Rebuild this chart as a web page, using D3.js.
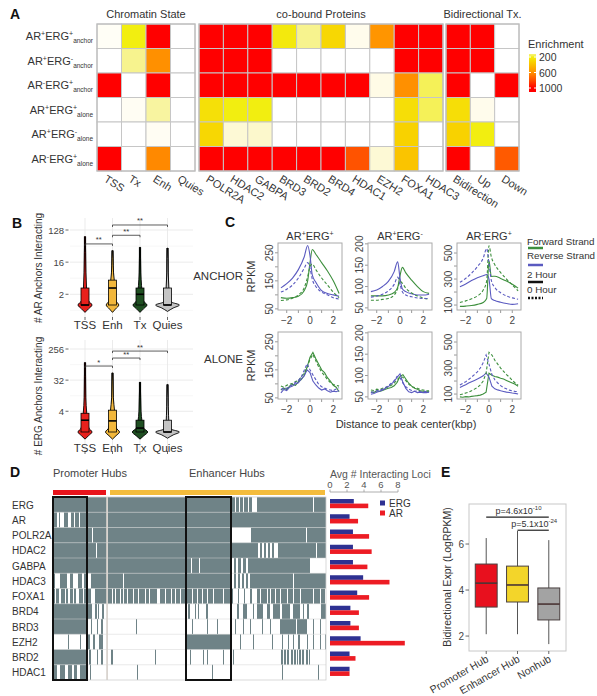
<!DOCTYPE html>
<html><head><meta charset="utf-8">
<script src="https://cdn.jsdelivr.net/npm/d3@7"></script>
<style>body{margin:0;background:#fff} svg{font-family:"Liberation Sans",Arial,Helvetica,sans-serif}</style>
</head><body><svg id="fig" width="597" height="696"></svg>
<script>
// ================= DATA =================
// Panel A
const aRows = [["+","+","anchor"],["+","-","anchor"],["-","+","anchor"],["+","+","alone"],["+","-","alone"],["-","+","alone"]];
const chromCols = ["TSS","Tx","Enh","Quies"];
const proteinCols = ["POLR2A","HDAC2","GABPA","BRD3","BRD2","BRD4","HDAC1","EZH2","FOXA1","HDAC3"];
const bidirCols = ["Bidirection","Up","Down"];
const chromValues = [[15,200,1000,0],[0,130,600,0],[1000,0,1000,0],[0,20,120,0],[0,0,20,0],[1000,0,620,0]];
const proteinValues = [
  [1000,1000,1000,220,130,300,30,580,1000,1000],
  [1000,1000,1000,0,0,0,0,0,1000,1000],
  [1000,1000,1000,1000,1000,1000,1000,40,600,160],
  [260,200,200,0,0,0,0,0,270,160],
  [300,60,70,0,0,0,0,0,320,0],
  [1000,1000,1000,1000,1000,1000,780,60,380,0]];
const bidirValues = [[1000,1000,0],[1000,1000,0],[1000,0,1000],[270,30,0],[320,200,0],[1000,0,760]];
const enrichTicks = [200,600,1000];

// Panel B
const bCats = ["TSS","Enh","Tx","Quies"];
const bColors = ["#e8201c","#f2b73b","#1f4f22","#c4c4c4"];
const arTicks = [2,16,128];
const ergTicks = [4,32,256];
const arMax = [84,34,42,40];
const arBox = [[1,1,3],[1,3,5],[1,2,3],[1,1,3]];
const ergMax = [104,52,28,24];
const ergBox = [[1,2.2,3.5],[1,2.1,4.3],[1,1.3,2.2],[1,1,2.2]];
const arViolins = [
  [[0.62,0],[0.78,0.5],[1,1],[1.3,0.5],[1.8,0.3],[3,0.22],[8,0.14],[30,0.09],[84,0.03]],
  [[0.62,0],[0.78,0.45],[1,0.9],[1.3,0.5],[2,0.4],[4,0.3],[8,0.15],[20,0.08],[34,0.03]],
  [[0.62,0],[0.78,0.5],[1,1],[1.3,0.5],[2,0.35],[3.5,0.22],[8,0.12],[20,0.08],[42,0.03]],
  [[0.66,0],[0.82,0.8],[1,1.7],[1.2,0.6],[1.6,0.3],[3,0.2],[8,0.1],[20,0.07],[40,0.03]]];
const ergViolins = [
  [[0.62,0],[0.78,0.5],[1,1],[1.3,0.55],[2,0.4],[3.5,0.25],[10,0.12],[40,0.08],[104,0.03]],
  [[0.62,0],[0.78,0.5],[1,1],[1.3,0.55],[2,0.4],[4,0.3],[10,0.12],[30,0.07],[52,0.03]],
  [[0.62,0],[0.78,0.55],[1,1.1],[1.3,0.5],[2,0.3],[4,0.15],[10,0.1],[28,0.03]],
  [[0.66,0],[0.82,0.8],[1,1.7],[1.2,0.55],[1.6,0.25],[3,0.15],[10,0.08],[24,0.03]]];
const arSig = [["TSS","Enh","**",52],["Enh","Tx","**",91],["Enh","Quies","**",177]];
const ergSig = [["TSS","Enh","*",82],["Enh","Tx","**",140],["Enh","Quies","**",223]];

// Panel C (series order: forward 2h, reverse 2h, forward 0h, reverse 0h)
const profCols = ["AR+ERG+","AR+ERG-","AR-ERG+"];
const anchorX = [-2.5,-2,-1.5,-1,-0.5,-0.2,0,0.2,0.5,1,1.5,2,2.5];
const aloneX = [-2.5,-2.25,-2,-1.75,-1.5,-1.25,-1,-0.75,-0.5,-0.25,0,0.25,0.5,0.75,1,1.25,1.5,1.75,2,2.25,2.5];
const profAnchorBoth = [
  [90,88,90,95,115,150,215,262,245,215,185,150,105],
  [125,140,160,190,235,276,240,170,145,115,105,100,95],
  [80,82,88,100,125,165,200,210,190,160,135,110,90],
  [110,120,135,160,195,215,195,155,130,110,100,90,85]];
const profAnchorAR = [
  [78,78,78,80,86,98,125,145,132,115,100,88,84],
  [88,92,100,112,135,158,120,95,88,83,80,80,82],
  [68,68,70,72,80,95,112,108,96,85,78,73,70],
  [75,78,82,90,105,122,105,88,80,76,73,72,72]];
const profAnchorERG = [
  [90,92,96,105,120,150,440,320,322,305,285,260,230],
  [240,262,288,310,325,335,300,150,135,122,112,105,110],
  [120,132,148,170,215,285,555,470,410,350,300,255,210],
  [275,305,345,395,460,535,420,290,235,195,170,155,145]];
const profAloneBoth = [
  [78,85,80,92,98,95,108,115,130,160,195,212,190,170,150,140,122,110,95,88,72],
  [68,80,76,88,92,100,104,118,128,150,140,110,96,85,78,82,75,70,74,72,76],
  [92,88,95,98,102,108,112,125,138,158,188,205,182,160,142,130,115,105,98,95,92],
  [80,86,84,92,98,105,112,125,148,172,150,132,115,98,90,85,80,78,76,82,86]];
const profAloneAR = [
  [62,60,64,63,65,68,70,72,76,84,98,102,92,82,75,70,68,64,63,62,62],
  [56,58,61,63,66,70,74,80,86,96,104,84,70,62,60,63,60,61,60,60,61],
  [66,65,68,67,70,72,74,77,82,90,97,96,88,80,74,72,70,67,66,64,64],
  [60,62,64,66,68,72,76,82,88,98,95,82,74,68,65,63,64,62,62,63,62]];
const profAloneERG = [
  [78,76,80,78,82,85,88,92,100,115,260,245,235,230,222,215,205,195,185,175,160],
  [150,162,172,185,195,205,215,228,240,262,230,160,140,132,125,120,115,112,108,105,100],
  [95,100,108,115,125,138,150,170,200,260,420,400,360,330,300,275,250,230,205,185,170],
  [170,182,195,212,230,250,270,300,340,400,330,250,210,185,165,150,140,130,125,120,120]];
const profDomains = [[46,285],[45,202],[62,577]];
const profTicks = [[50,100,150,200,250],[50,100,150,200],[100,200,300,400,500]];
const profTickLabels = [[50,150,250],[50,100,150,200],[100,300,500]];
const profXTicks = [-2,-1,0,1,2];
const profXLabels = [-2,0,2];

// Panel D
const dRows = ["ERG","AR","POLR2A","HDAC2","GABPA","HDAC3","FOXA1","BRD4","BRD3","EZH2","BRD2","HDAC1"];
const hubSegments = [
  [[0,54],[55,182],[183,186],[187,190],[191,195],[196,199],[204,260],[261,273]],
  [[0,4],[6,7],[11,15],[18,21],[22,26],[27,54],[55,273]],
  [[0,39],[40,54],[55,179],[198,253],[254,273]],
  [[0,43],[44,54],[55,205],[207,209],[211,213],[215,217],[219,221],[225,263],[264,273]],
  [[0,54],[55,138],[139,146],[147,179],[181,183],[185,188],[190,193],[195,257]],
  [[0,2],[7,14],[17,20],[25,29],[31,34],[38,54],[55,70],[71,179],[181,183],[185,187],[189,191],[193,195],[197,240],[241,273]],
  [[0,2],[3,6],[8,12],[13,15],[17,20],[21,23],[26,30],[31,34],[35,38],[42,54],[55,59],[60,62],[63,67],[68,70],[71,74],[75,80],[81,85],[86,92],[93,96],[97,104],[107,112],[113,118],[119,122],[123,127],[128,139],[140,144],[145,149],[150,154],[155,160],[161,170],[171,180],[185,186],[191,192],[197,199],[204,207],[208,214],[215,217],[218,222],[223,227],[228,234],[235,240],[241,247],[248,260],[261,267],[268,272]],
  [[0,39],[42,44],[45,46],[49,51],[135,137],[142,143],[145,146],[153,155],[184,186],[190,194],[200,201],[204,210],[214,217],[220,227],[229,237],[240,247],[250,251],[254,256],[268,273]],
  [[0,35],[38,39],[44,45],[48,50],[83,84],[139,140],[154,155],[164,165],[182,183],[190,191],[197,198],[209,210],[217,218],[227,243],[244,254],[260,261],[267,268]],
  [[15,16],[27,28],[35,37],[40,42],[46,50],[134,178],[187,188],[200,201],[219,220],[229,230],[235,236],[240,241],[245,247],[254,255],[260,261],[267,268],[272,273]],
  [[0,34],[36,38],[44,45],[48,50],[58,60],[102,103],[137,138],[150,151],[154,155],[170,171],[180,181],[228,230],[231,233],[234,236],[238,240],[241,243],[244,245],[246,248],[249,251],[253,255],[256,257]],
  [[0,4],[7,12],[15,19],[21,24],[27,34],[37,38],[84,85],[159,160],[229,230],[265,266]]];
const hubTotal = 273;
const promoterHubs = [0,53];
const enhancerHubs = [57,272];
const hubBoxes = [[0,34],[133,178]];
const dBarERG = [2.8,2.3,2.7,2.7,2.7,3.9,3.2,2.4,2.4,3.6,2.3,2.3];
const dBarAR = [4.5,3.3,4.6,4.9,4.4,7.0,4.6,3.4,3.4,8.8,3.0,2.3];
const dBarTicks = [0,2,4,6,8];

// Panel E
const eCats = ["Promoter Hub","Enhancer Hub","Nonhub"];
const eColors = ["#e8101e","#f3d52a","#a3a3a3"];
const eStats = [[2.08,3.26,4.30,5.13,6.26],[2.08,3.48,4.22,5.04,6.57],[1.65,2.70,3.39,4.09,6.17]];
const eTicks = [2,4,6];
const ePvals = [["Promoter Hub","Nonhub","4.6","-10",7.17],["Enhancer Hub","Nonhub","5.1","-24",6.6]];

// ================= DRAW =================
const svg = d3.select("#fig");
const txt = "#333";
function letter(t,x,y){svg.append("text").attr("x",x).attr("y",y).attr("font-size",14).attr("font-weight","bold").attr("fill","#111").text(t);}
letter("A",10,19);letter("B",12,228);letter("C",225,227);letter("D",10,477);letter("E",441,477);

// ---------- Panel A ----------
const gA = svg.append("g");
const enrichColor = d3.scaleLinear()
  .domain([0,40,120,200,320,600,800,1000])
  .range(["#ffffff","#fffbe6","#f8f4a0","#f2ee10","#f8d200","#ff9000","#ff4c00","#ff0000"]).clamp(true);
const rowBand = d3.scaleBand().domain(d3.range(aRows.length)).range([24,171]);
const blocks = [
  {cols:chromCols, vals:chromValues, r:[97,195], title:"Chromatin State"},
  {cols:proteinCols, vals:proteinValues, r:[199,443], title:"co-bound Proteins"},
  {cols:bidirCols, vals:bidirValues, r:[446,519], title:"Bidirectional Tx."}];
blocks.forEach(b=>{
  const xb = d3.scaleBand().domain(b.cols).range(b.r);
  b.vals.forEach((row,i)=>row.forEach((v,j)=>{
    gA.append("rect").attr("x",xb(b.cols[j])).attr("y",rowBand(i))
      .attr("width",xb.bandwidth()).attr("height",rowBand.bandwidth())
      .attr("fill",enrichColor(v)).attr("stroke","#c6c6c6").attr("stroke-width",1);
  }));
  gA.append("rect").attr("x",b.r[0]).attr("y",24).attr("width",b.r[1]-b.r[0]).attr("height",147)
    .attr("fill","none").attr("stroke","#bdbdbd").attr("stroke-width",1.2);
  gA.append("text").attr("x",(b.r[0]+b.r[1])/2).attr("y",18).attr("text-anchor","middle")
    .attr("font-size",11).attr("fill",txt).text(b.title);
  b.cols.forEach(c=>{
    const cx = xb(c)+xb.bandwidth()/2;
    gA.append("text").attr("transform",`translate(${cx-6},181) rotate(32)`)
      .attr("font-size",11).attr("fill",txt).text(c);
  });
});
aRows.forEach((r,i)=>{
  const t = gA.append("text").attr("x",93).attr("y",rowBand(i)+rowBand.bandwidth()/2+4)
    .attr("text-anchor","end").attr("font-size",11).attr("fill",txt);
  t.append("tspan").text("AR");
  t.append("tspan").attr("font-size",7).attr("dy",-4).text(r[0]);
  t.append("tspan").attr("dy",4).text("ERG");
  t.append("tspan").attr("font-size",7).attr("dy",-4).text(r[1]);
  t.append("tspan").attr("font-size",6.5).attr("dy",7).text(r[2]);
});
// legend
const legY = d3.scaleLinear().domain([200,1000]).range([57,88]);
const barTop = 54, barBot = 92;
const defs = svg.append("defs");
const grad = defs.append("linearGradient").attr("id","enrGrad").attr("x1",0).attr("y1",0).attr("x2",0).attr("y2",1);
[150,200,320,600,800,1000,1080].forEach(v=>{
  grad.append("stop").attr("offset",(legY(v)-barTop)/(barBot-barTop)).attr("stop-color",enrichColor(Math.min(v,1000)));
});
gA.append("text").attr("x",528).attr("y",48).attr("font-size",11).attr("fill",txt).text("Enrichment");
gA.append("rect").attr("x",529).attr("y",barTop).attr("width",7).attr("height",barBot-barTop).attr("fill","url(#enrGrad)");
enrichTicks.forEach(v=>{
  gA.append("line").attr("x1",529).attr("x2",531).attr("y1",legY(v)).attr("y2",legY(v)).attr("stroke","#fff");
  gA.append("line").attr("x1",534).attr("x2",536).attr("y1",legY(v)).attr("y2",legY(v)).attr("stroke","#fff");
  gA.append("text").attr("x",539).attr("y",legY(v)+4).attr("font-size",10.5).attr("fill",txt).text(v);
});

// ---------- Panel B ----------
function drawViolins(top, bottom, yDomain, yRange, ticks, maxes, boxes, violins, sig, yTitle, labelY){
  const g = svg.append("g");
  const x = d3.scalePoint().domain(bCats).range([85,167.5]);
  const y = d3.scaleLog().base(2).domain(yDomain).range(yRange);
  // grid
  const minor = [];
  for(let i=0;i<ticks.length-1;i++) minor.push(Math.sqrt(ticks[i]*ticks[i+1]));
  minor.push(ticks[0]/Math.sqrt(ticks[1]/ticks[0]));
  minor.forEach(v=>g.append("line").attr("x1",70).attr("x2",193).attr("y1",y(v)).attr("y2",y(v)).attr("stroke","#f2f2f2").attr("stroke-width",0.6));
  ticks.forEach(v=>g.append("line").attr("x1",70).attr("x2",193).attr("y1",y(v)).attr("y2",y(v)).attr("stroke","#e6e6e6").attr("stroke-width",0.8));
  bCats.forEach(c=>g.append("line").attr("x1",x(c)).attr("x2",x(c)).attr("y1",top).attr("y2",bottom).attr("stroke","#e6e6e6").attr("stroke-width",0.8));
  // y axis
  ticks.forEach(v=>{
    g.append("text").attr("x",64).attr("y",y(v)+3.5).attr("text-anchor","end").attr("font-size",9.5).attr("fill","#444").text(v);
    g.append("line").attr("x1",65.5).attr("x2",68.5).attr("y1",y(v)).attr("y2",y(v)).attr("stroke","#444").attr("stroke-width",0.8);
  });
  g.append("text").attr("transform",`translate(42,${(top+bottom)/2}) rotate(-90)`).attr("text-anchor","middle")
    .attr("font-size",10).attr("fill",txt).text(yTitle);
  // violins
  const W = 7;
  bCats.forEach((c,i)=>{
    const cx = x(c);
    const prof = violins[i];
    const area = d3.area().y(d=>y(d[0])).x0(d=>cx-d[1]*W).x1(d=>cx+d[1]*W).curve(d3.curveMonotoneY);
    g.append("line").attr("x1",cx).attr("x2",cx).attr("y1",y(boxes[i][2])).attr("y2",y(maxes[i]))
      .attr("stroke","#000").attr("stroke-width",2.2);
    g.append("path").attr("d",area(prof)).attr("fill",bColors[i]).attr("stroke","#000").attr("stroke-width",0.9);
    const bw = 8;
    g.append("rect").attr("x",cx-bw/2).attr("y",y(boxes[i][2])).attr("width",bw)
      .attr("height",Math.max(1,y(boxes[i][0])-y(boxes[i][2]))).attr("fill",bColors[i]).attr("stroke","#000").attr("stroke-width",0.8);
    g.append("line").attr("x1",cx-bw/2).attr("x2",cx+bw/2).attr("y1",y(boxes[i][1])).attr("y2",y(boxes[i][1]))
      .attr("stroke","#000").attr("stroke-width",1.6);
    g.append("line").attr("x1",cx).attr("x2",cx).attr("y1",bottom-1).attr("y2",bottom+2).attr("stroke","#444").attr("stroke-width",0.8);
    g.append("text").attr("x",cx).attr("y",labelY).attr("text-anchor","middle").attr("font-size",11.5).attr("fill",txt).text(c);
  });
  // significance
  sig.forEach(s=>{
    const x1 = x(s[0]), x2 = x(s[1]), yy = y(s[3]);
    g.append("path").attr("d",`M${x1},${yy+2}V${yy}H${x2}V${yy+2}`).attr("fill","none").attr("stroke","#333").attr("stroke-width",0.8);
    g.append("text").attr("x",(x1+x2)/2).attr("y",yy-1.5).attr("text-anchor","middle").attr("font-size",7.5).attr("fill","#333").text(s[2]);
  });
}
drawViolins(218,318,[1,128],[305,230],arTicks,arMax,arBox,arViolins,arSig,"# AR Anchors Interacting",329);
drawViolins(340,452,[1,256],[432,349],ergTicks,ergMax,ergBox,ergViolins,ergSig,"# ERG Anchors Interacting",452);

// ---------- Panel C ----------
const cGreen = "#3d8f3d", cBlue = "#5a5ac0";
const profColLeft = [278,368,457];
const profRowTop = [243,332];
const profData = [[profAnchorBoth,profAnchorAR,profAnchorERG],[profAloneBoth,profAloneAR,profAloneERG]];
const profXs = [anchorX, aloneX];
const gC = svg.append("g");
profCols.forEach((c,ci)=>{
  const t = gC.append("text").attr("x",profColLeft[ci]+32).attr("y",240).attr("text-anchor","middle").attr("font-size",11).attr("fill",txt);
  t.append("tspan").text("AR");
  t.append("tspan").attr("font-size",7).attr("dy",-4).text(c[2]);
  t.append("tspan").attr("dy",4).text("ERG");
  t.append("tspan").attr("font-size",7).attr("dy",-4).text(c[6]);
});
[0,1].forEach(ri=>{
  profCols.forEach((c,ci)=>{
    const left = profColLeft[ci], top = profRowTop[ri], w = 64, h = 67;
    const x = d3.scaleLinear().domain([-2.75,2.75]).range([left,left+w]);
    const y = d3.scaleLinear().domain(profDomains[ci]).range([top+h,top]);
    const g = gC.append("g");
    profXTicks.forEach(v=>g.append("line").attr("x1",x(v)).attr("x2",x(v)).attr("y1",top+h).attr("y2",top+h+3).attr("stroke","#999"));
    profXLabels.forEach(v=>g.append("text").attr("x",x(v)).attr("y",top+h+14).attr("text-anchor","middle").attr("font-size",10).attr("fill","#444").text(v<0?"\u2212"+(-v):v));
    profTicks[ci].forEach(v=>g.append("line").attr("x1",left-3).attr("x2",left).attr("y1",y(v)).attr("y2",y(v)).attr("stroke","#999"));
    profTickLabels[ci].forEach(v=>g.append("text").attr("transform",`translate(${left-5},${y(v)}) rotate(-90)`).attr("text-anchor","middle").attr("font-size",10).attr("fill","#444").text(v));
    const xs = profXs[ri];
    const ser = profData[ri][ci];
    ser.forEach((s,k)=>{
      const line = d3.line().x((d,j)=>x(xs[j])).y(d=>y(d)).curve(ri===0?d3.curveMonotoneX:d3.curveLinear);
      g.append("path").attr("d",line(s)).attr("fill","none")
        .attr("stroke",k%2===0?cGreen:cBlue).attr("stroke-width",1.1)
        .attr("stroke-dasharray",k>=2?"3,2":null);
    });
    g.append("rect").attr("x",left).attr("y",top).attr("width",w).attr("height",h).attr("fill","none").attr("stroke","#aaa").attr("stroke-width",1);
  });
  gC.append("text").attr("transform",`translate(255,${profRowTop[ri]+33.5}) rotate(-90)`).attr("text-anchor","middle").attr("font-size",11).attr("fill",txt).text("RPKM");
});
gC.append("text").attr("x",243).attr("y",280).attr("text-anchor","end").attr("font-size",11.5).attr("fill",txt).text("ANCHOR");
gC.append("text").attr("x",243).attr("y",363).attr("text-anchor","end").attr("font-size",11.5).attr("fill",txt).text("ALONE");
gC.append("text").attr("x",406).attr("y",428).attr("text-anchor","middle").attr("font-size",11).attr("fill",txt).text("Distance to peak center(kbp)");
// legend C
const legC = [["Forward Strand",cGreen,null,245,248],["Reverse Strand",cBlue,null,259,265],["2 Hour","#111",null,278,282],["0 Hour","#111","2,1.5",293,298]];
legC.forEach(l=>{
  gC.append("text").attr("x",527).attr("y",l[3]).attr("font-size",9.8).attr("fill",txt).text(l[0]);
  gC.append("line").attr("x1",528).attr("x2",543).attr("y1",l[4]).attr("y2",l[4]).attr("stroke",l[1]).attr("stroke-width",2.5).attr("stroke-dasharray",l[2]);
});

// ---------- Panel D ----------
const gD = svg.append("g");
const hx = d3.scaleLinear().domain([0,hubTotal]).range([53,326]);
const dy = d3.scaleBand().domain(dRows).range([497,680]);
gD.append("text").attr("x",53).attr("y",477).attr("font-size",11).attr("fill","#444").text("Promoter Hubs");
gD.append("text").attr("x",189).attr("y",477).attr("font-size",11).attr("fill","#444").text("Enhancer Hubs");
gD.append("rect").attr("x",hx(promoterHubs[0])).attr("y",490).attr("width",hx(promoterHubs[1])-hx(promoterHubs[0])).attr("height",5).attr("fill","#e8141c");
gD.append("rect").attr("x",hx(enhancerHubs[0])).attr("y",490).attr("width",hx(enhancerHubs[1])-hx(enhancerHubs[0])).attr("height",5).attr("fill","#f4bc3c");
gD.append("rect").attr("x",53).attr("y",497).attr("width",273).attr("height",183).attr("fill","#fff");
dRows.forEach((r,i)=>{
  hubSegments[i].forEach(s=>{
    gD.append("rect").attr("x",hx(s[0])).attr("y",dy(r)).attr("width",hx(s[1])-hx(s[0])).attr("height",dy.bandwidth()).attr("fill","#6f8387");
  });
  gD.append("text").attr("x",12).attr("y",dy(r)+dy.bandwidth()/2+4).attr("font-size",10).attr("fill",txt).text(r);
});
dRows.forEach((r,i)=>{ if(i>0) gD.append("line").attr("x1",53).attr("x2",326).attr("y1",dy(r)).attr("y2",dy(r)).attr("stroke","#d4d4d4").attr("stroke-width",0.8).attr("opacity",0.6);});
gD.append("rect").attr("x",hx(53.2)).attr("y",497).attr("width",hx(55)-hx(53.2)).attr("height",183).attr("fill","#d9d4cf");
gD.append("rect").attr("x",53).attr("y",497).attr("width",273).attr("height",183).attr("fill","none").attr("stroke","#cfcfcf").attr("stroke-width",0.8);
hubBoxes.forEach(b=>{
  gD.append("rect").attr("x",hx(b[0])).attr("y",497).attr("width",hx(b[1])-hx(b[0])).attr("height",183).attr("fill","none").attr("stroke","#111").attr("stroke-width",2);
});
// bars
const bx = d3.scaleLinear().domain([0,8]).range([330,398]);
gD.append("text").attr("x",330).attr("y",478).attr("font-size",10.5).attr("fill","#555").text("Avg # Interacting Loci");
gD.append("line").attr("x1",bx(0)).attr("x2",bx(8)).attr("y1",492).attr("y2",492).attr("stroke","#999").attr("stroke-width",0.8);
dBarTicks.forEach(v=>{
  gD.append("line").attr("x1",bx(v)).attr("x2",bx(v)).attr("y1",489.5).attr("y2",492).attr("stroke","#999").attr("stroke-width",0.8);
  gD.append("text").attr("x",bx(v)).attr("y",488).attr("text-anchor","middle").attr("font-size",9.5).attr("fill","#555").text(v);
});
dRows.forEach((r,i)=>{
  gD.append("rect").attr("x",bx(0)).attr("y",dy(r)+2).attr("width",bx(dBarERG[i])-bx(0)).attr("height",4.6).attr("fill","#2e3192");
  gD.append("rect").attr("x",bx(0)).attr("y",dy(r)+6.6).attr("width",bx(dBarAR[i])-bx(0)).attr("height",4.6).attr("fill","#ed1c24");
});
[["ERG","#2e3192",503],["AR","#ed1c24",513]].forEach(l=>{
  gD.append("rect").attr("x",380).attr("y",l[2]-2.5).attr("width",5).attr("height",5).attr("fill",l[1]);
  gD.append("text").attr("x",389).attr("y",l[2]+3.5).attr("font-size",10).attr("fill",txt).text(l[0]);
});

// ---------- Panel E ----------
const gE = svg.append("g");
const ex = d3.scaleBand().domain(eCats).range([469,566]).paddingInner(0.3).paddingOuter(0.2);
const ey = d3.scaleLinear().domain([1.35,7.74]).range([651,504]);
gE.append("rect").attr("x",469).attr("y",504).attr("width",97).attr("height",147).attr("fill","#fff").attr("stroke","#c8c8c8").attr("stroke-width",1);
eTicks.forEach(v=>{
  gE.append("line").attr("x1",465.5).attr("x2",469).attr("y1",ey(v)).attr("y2",ey(v)).attr("stroke","#444").attr("stroke-width",0.8);
  gE.append("text").attr("x",464).attr("y",ey(v)+3.5).attr("text-anchor","end").attr("font-size",10).attr("fill","#444").text(v);
});
gE.append("text").attr("transform",`translate(451,577) rotate(-90)`).attr("text-anchor","middle").attr("font-size",10.5).attr("fill",txt).text("Bidirectional Expr (LogRPKM)");
eCats.forEach((c,i)=>{
  const s = eStats[i], cx = ex(c)+ex.bandwidth()/2, bw = ex.bandwidth();
  gE.append("line").attr("x1",cx).attr("x2",cx).attr("y1",ey(s[0])).attr("y2",ey(s[4])).attr("stroke","#555").attr("stroke-width",1);
  gE.append("rect").attr("x",cx-bw/2).attr("y",ey(s[3])).attr("width",bw).attr("height",ey(s[1])-ey(s[3])).attr("fill",eColors[i]).attr("stroke","#4a4040").attr("stroke-width",1);
  gE.append("line").attr("x1",cx-bw/2).attr("x2",cx+bw/2).attr("y1",ey(s[2])).attr("y2",ey(s[2])).attr("stroke","#4a3535").attr("stroke-width",1.6);
  gE.append("line").attr("x1",cx).attr("x2",cx).attr("y1",651).attr("y2",654).attr("stroke","#444").attr("stroke-width",0.8);
  gE.append("text").attr("transform",`translate(${cx+3},661) rotate(-30)`).attr("text-anchor","end").attr("font-size",10.5).attr("fill",txt).text(c);
});
ePvals.forEach(p=>{
  const x1 = ex(p[0])+ex.bandwidth()/2, x2 = ex(p[1])+ex.bandwidth()/2, yy = ey(p[4]);
  gE.append("line").attr("x1",x1).attr("x2",x2).attr("y1",yy).attr("y2",yy).attr("stroke","#222").attr("stroke-width",1.2);
  const t = gE.append("text").attr("x",(x1+x2)/2+1).attr("y",yy-3.5).attr("text-anchor","middle").attr("font-size",9).attr("fill",txt);
  t.append("tspan").text("p="+p[2]+"x10");
  t.append("tspan").attr("font-size",6).attr("dy",-3.5).text(p[3]);
});
</script></body></html>
